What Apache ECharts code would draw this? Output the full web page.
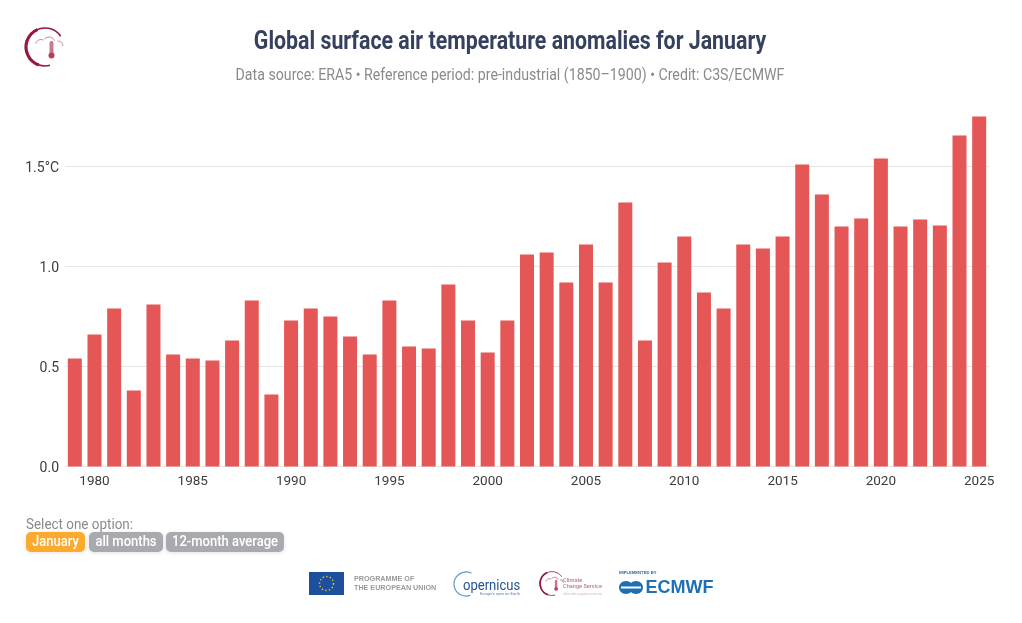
<!DOCTYPE html>
<html>
<head>
<meta charset="utf-8">
<title>Global surface air temperature anomalies for January</title>
<style>
  html, body { margin: 0; padding: 0; background: #fff; }
  #main { width: 1022px; height: 623px; }
</style>
<script src="https://cdn.jsdelivr.net/npm/echarts@6/dist/echarts.min.js"></script>
</head>
<body>
<div id="main"></div>
<script>
const years = ['1979','1980','1981','1982','1983','1984','1985','1986','1987','1988','1989','1990',
  '1991','1992','1993','1994','1995','1996','1997','1998','1999','2000','2001','2002','2003','2004',
  '2005','2006','2007','2008','2009','2010','2011','2012','2013','2014','2015','2016','2017','2018',
  '2019','2020','2021','2022','2023','2024','2025'];
const anomalies = [0.54,0.66,0.79,0.38,0.81,0.56,0.54,0.53,0.63,0.83,0.36,0.73,
  0.79,0.75,0.65,0.56,0.83,0.60,0.59,0.91,0.73,0.57,0.73,1.06,1.07,0.92,
  1.11,0.92,1.32,0.63,1.02,1.15,0.87,0.79,1.11,1.09,1.15,1.51,1.36,1.20,
  1.24,1.54,1.20,1.235,1.205,1.655,1.75];
const titleText = 'Global surface air temperature anomalies for January';
const subtitleText = 'Data source: ERA5 • Reference period: pre-industrial (1850–1900) • Credit: C3S/ECMWF';
const promptText = 'Select one option:';
const buttonLabels = ['January', 'all months', '12-month average'];

const font = 'Roboto, sans-serif';
const logoFont = 'Liberation Sans, sans-serif';

// narrow text, Roboto Condensed is not installed
function squeezed(text, x, y, scaleX, style, align) {
  return {
    type: 'text', x: x, y: y, scaleX: scaleX, silent: true,
    style: Object.assign({ text: text, fontFamily: font, align: align || 'center', verticalAlign: 'middle' }, style)
  };
}

function button(text, x, w, color) {
  return [
    { type: 'rect', shape: { x: x, y: 532, width: w, height: 20, r: 5 }, style: { fill: color, shadowBlur: 4, shadowColor: 'rgba(0,0,0,0.12)', shadowOffsetY: 1 } },
    squeezed(text, x + w / 2, 542, 0.93, { fontSize: 14, fontWeight: 500, fill: '#fff' })
  ];
}

// logos under the chart and top left, rough redraw
function c3sLogo(cx, cy, r, w) {
  const k = r / 19;
  const cloud = { fill: 'none', stroke: '#b0566c', lineWidth: 0.7 };
  return [
    { type: 'arc', shape: { cx: cx, cy: cy, r: r, startAngle: -0.6, endAngle: 1.3, clockwise: false }, style: { fill: 'none', stroke: '#94193a', lineWidth: w * 0.5 } },
    { type: 'arc', shape: { cx: cx, cy: cy, r: r, startAngle: 1.9, endAngle: 4.3 }, style: { fill: 'none', stroke: '#94193a', lineWidth: w } },
    { type: 'arc', shape: { cx: cx - 4 * k, cy: cy - 2 * k, r: 5.5 * k, startAngle: 3.4, endAngle: 5.2 }, style: cloud },
    { type: 'arc', shape: { cx: cx + 4 * k, cy: cy - 4 * k, r: 6 * k, startAngle: 3.8, endAngle: 5.9 }, style: cloud },
    { type: 'arc', shape: { cx: cx + 13 * k, cy: cy - 1 * k, r: 5 * k, startAngle: 4.6, endAngle: 6.3 }, style: cloud },
    { type: 'rect', shape: { x: cx + 4.5 * k, y: cy - 6 * k, width: 4 * k, height: 14 * k, r: 2 * k }, style: { fill: '#c9798d' } },
    { type: 'circle', shape: { cx: cx + 6.5 * k, cy: cy + 8.5 * k, r: 3 * k }, style: { fill: '#b5405d' } }
  ];
}

const graphics = [
  squeezed(titleText, 510, 42.5, 0.853, { fontSize: 25, fontWeight: 700, fill: '#36415f' }),
  squeezed(subtitleText, 510, 76, 0.886, { fontSize: 16, fill: '#8a8a8a' }),
  squeezed(promptText, 26, 525, 0.96, { fontSize: 14, fill: '#8a8a8a' }, 'left')
]
  .concat(button(buttonLabels[0], 26, 59, '#fbaa2e'))
  .concat(button(buttonLabels[1], 89, 74, '#a8aaaf'))
  .concat(button(buttonLabels[2], 166, 118, '#a8aaaf'))
  .concat(c3sLogo(45, 47, 19, 3.2))
  .concat([
    { type: 'rect', shape: { x: 309, y: 572, width: 35, height: 23 }, style: { fill: '#1d4f9c' } },
    { type: 'circle', shape: { cx: 326.5, cy: 583.5, r: 7 }, style: { fill: 'none', stroke: '#e9c93a', lineWidth: 1.4, lineDash: [1.4, 2.2] } },
    squeezed('PROGRAMME OF', 354, 579, 1, { fontFamily: logoFont, fontSize: 7.2, fontWeight: 700, fill: '#9a9a9a' }, 'left'),
    squeezed('THE EUROPEAN UNION', 354, 588, 1, { fontFamily: logoFont, fontSize: 7.2, fontWeight: 700, fill: '#9a9a9a' }, 'left'),
    { type: 'arc', shape: { cx: 466, cy: 584, r: 12, startAngle: -1.1, endAngle: 1.2, clockwise: false }, style: { fill: 'none', stroke: '#5b9bd1', lineWidth: 1.2 } },
    squeezed('opernicus', 463, 586, 0.87, { fontSize: 15, fill: '#24538f' }, 'left'),
    squeezed('Europe\u2019s eyes on Earth', 480, 594, 1, { fontSize: 4, fill: '#5b7fae' }, 'left')
  ])
  .concat(c3sLogo(552, 583.5, 12, 1.6))
  .concat([
    squeezed('Climate', 563, 580.5, 1, { fontSize: 5.6, fontWeight: 500, fill: '#c07a8c' }, 'left'),
    squeezed('Change Service', 563, 587, 1, { fontSize: 5.6, fontWeight: 500, fill: '#c07a8c' }, 'left'),
    squeezed('climate.copernicus.eu', 563, 594, 1, { fontSize: 4, fill: '#d3b5bd' }, 'left'),
    squeezed('IMPLEMENTED BY', 619, 573, 1, { fontFamily: logoFont, fontSize: 4.2, fontWeight: 700, fill: '#2a6aa8' }, 'left'),
    { type: 'ellipse', shape: { cx: 626, cy: 587.5, rx: 7, ry: 6.5 }, style: { fill: '#1f6fb2' } },
    { type: 'ellipse', shape: { cx: 636, cy: 587.5, rx: 7, ry: 6.5 }, style: { fill: '#1f6fb2' } },
    { type: 'rect', shape: { x: 621, y: 586.5, width: 20, height: 2 }, style: { fill: '#fff' } },
    squeezed('ECMWF', 645.5, 588, 1, { fontFamily: logoFont, fontSize: 18, fontWeight: 700, fill: '#1f6fb2' }, 'left')
  ]);

const chart = echarts.init(document.getElementById('main'));
chart.setOption({
  animation: false,
  backgroundColor: '#fff',
  textStyle: { fontFamily: font },
  grid: { left: 65, top: 106.5, width: 924, height: 360, containLabel: false },
  xAxis: {
    type: 'category',
    data: years,
    axisTick: { show: false },
    axisLine: { lineStyle: { color: '#e6e6e6', width: 1 } },
    axisLabel: {
      color: '#3c3c3c', fontSize: 13.5, margin: 8, fontFamily: font,
      interval: function (i, v) { return Number(v) % 5 === 0; }
    }
  },
  yAxis: {
    type: 'value',
    min: 0,
    max: 1.8,
    interval: 0.5,
    axisLine: { show: false },
    axisTick: { show: false },
    splitLine: { showMaxLine: false, lineStyle: { color: '#e6e6e6', width: 1 } },
    axisLabel: {
      margin: 6, showMaxLabel: false,
      formatter: function (v) { return '{v|' + (v === 1.5 ? '1.5°C' : v.toFixed(1)) + '}'; },
      rich: { v: { color: '#3c3c3c', fontSize: 14, fontFamily: font, padding: [4, 0, 0, 0] } }
    }
  },
  series: [{
    type: 'bar',
    data: anomalies,
    barWidth: 14,
    itemStyle: { color: '#e45756' }
  }],
  graphic: { elements: graphics }
});
</script>
</body>
</html>
